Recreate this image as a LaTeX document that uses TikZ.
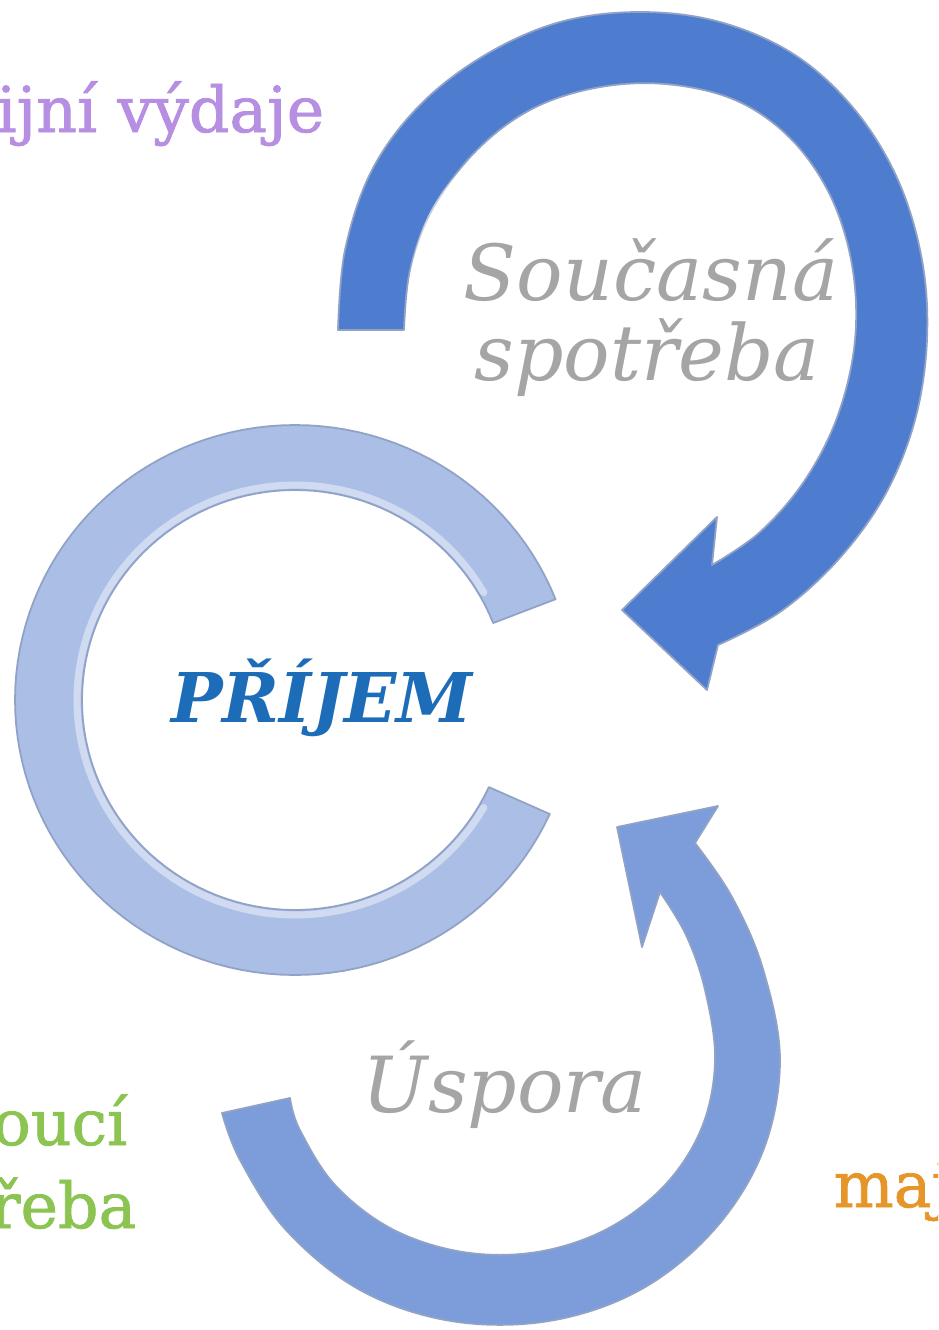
\documentclass[tikz,border=0pt]{standalone}
\usepackage{fontspec}
\setmainfont{DejaVu Serif}
\newfontfamily\prfont{DejaVu Serif}
\newfontfamily\sidefont{DejaVu Serif}[FakeBold=1.2]
\definecolor{topblue}{RGB}{78,124,206}
\definecolor{ringblue}{RGB}{170,190,230}
\definecolor{botblue}{RGB}{124,157,218}
\definecolor{edgeblue}{RGB}{70,100,160}
\definecolor{graytext}{RGB}{165,165,165}
\definecolor{purpletext}{RGB}{182,142,226}
\definecolor{greentext}{RGB}{140,196,82}
\definecolor{orangetext}{RGB}{230,150,40}
\definecolor{prblue}{RGB}{28,108,184}
\tikzset{
  band/.style={draw=edgeblue!60, line width=0.5pt, line join=round},
  hilite/.style={draw=white, line width=2pt, opacity=0.45, line cap=round},
  graylabel/.style={inner sep=0pt, text=graytext, font=\fontsize{22pt}{26pt}\selectfont\itshape},
  sidelabel/.style={inner sep=0pt, font=\fontsize{18pt}{22pt}\selectfont\sidefont},
  centerlabel/.style={inner sep=0pt, text=prblue, font=\fontsize{19.5pt}{24pt}\selectfont\prfont\bfseries\itshape}
}
\begin{document}
\begin{tikzpicture}[x=0.01cm,y=-0.01cm]
\useasboundingbox (0,0) rectangle (938,1330);
\clip (0,0) rectangle (938,1330);
\fill[white] (0,0) rectangle (938,1330);

% top arrow (Soucasna spotreba)
\fill[topblue, band] plot[smooth, tension=0.6] coordinates {(338,330) (345,250) (372,170) (420,105) (485,55) (560,22) (640,12) (720,22) (795,55) (855,110) (898,180) (922,260) (927,340) (915,420) (885,495) (838,560) (780,612) (718,645)}
  -- (707,690) -- (622,610) -- (717,517) -- (712,565)
  -- plot[smooth, tension=0.6] coordinates {(712,565) (760,532) (805,480) (838,415) (855,340) (852,265) (830,195) (790,138) (735,100) (665,84) (595,88) (530,110) (475,152) (432,210) (410,270) (404,330)}
  -- cycle;
\draw[hilite] plot[smooth, tension=0.6] coordinates {(410,322) (416,262) (438,205) (480,156) (534,116) (597,94) (664,90) (732,106) (786,143) (824,198) (846,265) (849,340)};

% middle ring (PRIJEM)
\fill[ringblue, band] plot[domain=21.5:335.5, samples=120] ({295+280*cos(\x)},{700-275*sin(\x)})
  -- plot[domain=335.5:21.5, samples=120] ({295+213*cos(\x)},{700-210*sin(\x)}) -- cycle;
\draw[hilite] plot[domain=30:330, samples=100] ({295+218*cos(\x)},{700-215*sin(\x)});

% bottom arrow (Uspora)
\fill[botblue, band] plot[smooth, tension=0.6] coordinates {(695,843) (732,897) (763,969) (780,1060) (763,1151) (714,1230) (640,1290) (549,1321) (451,1321) (360,1290) (286,1230) (240,1160) (222,1113)}
  -- (290,1098)
  -- plot[smooth, tension=0.6] coordinates {(290,1098) (300,1130) (335,1185) (392,1229) (463,1252) (537,1252) (607,1229) (665,1185) (702,1127) (715,1060) (705,990) (686,935) (660,892)}
  -- (642,947) -- (617,827) -- (718,806) -- cycle;
\draw[hilite] plot[smooth, tension=0.6] coordinates {(296,1106) (306,1132) (340,1180) (395,1222) (463,1245) (537,1245) (604,1223) (660,1180) (695,1125)};

% labels
\node[graylabel, anchor=base] (soucasna) at (651,300) {Současná};
\node[graylabel, anchor=base] (spotreba) at (647,380) {spotřeba};
\node[graylabel, anchor=base] (uspora) at (505,1112) {Úspora};
\node[centerlabel, anchor=base] (prijem) at (322,722) {PŘÍJEM};
\node[sidelabel, text=purpletext, anchor=base east] (havarijni) at (325,132) {Havarijní výdaje};
\node[sidelabel, text=greentext, anchor=base east] (budouci) at (128,1145) {Budoucí};
\node[sidelabel, text=greentext, anchor=base east] (budspotreba) at (137,1228) {spotřeba};
\node[sidelabel, text=orangetext, anchor=base west] (majetek) at (833,1207) {majetek};
\end{tikzpicture}
\end{document}
